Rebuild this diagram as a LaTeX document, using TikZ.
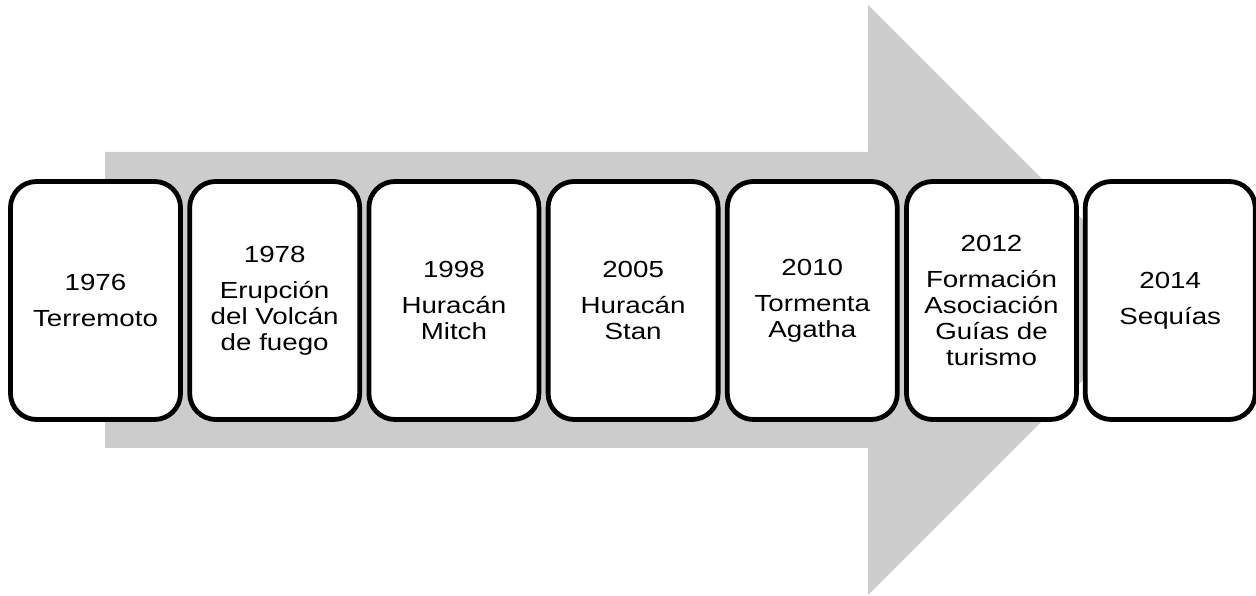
\documentclass[tikz,border=0pt]{standalone}
\usepackage{fontspec}
\setmainfont{Liberation Sans}[FakeStretch=1.19]
\begin{document}
\begin{tikzpicture}[x=1pt,y=1pt,
  evbox/.style={draw=black, fill=white, line width=4.8pt, rounded corners=26pt,
    minimum width=170pt, minimum height=238pt, align=center,
    font=\fontsize{23.3}{26}\selectfont, inner sep=0pt}]
\useasboundingbox (0,0) rectangle (1256,596);
\fill[fill={rgb,255:red,204;green,204;blue,204}] (105,444) -- (868,444) -- (868,591) -- (1163,296) -- (868,1) -- (868,148) -- (105,148) -- cycle;
\def\ys{\\[10pt]}
\node[evbox] (b1) at (95.5,295.5) {1976\ys Terremoto};
\node[evbox] (b2) at (274.7,295.5) {1978\ys Erupción\\del Volcán\\de fuego};
\node[evbox] (b3) at (453.9,295.5) {1998\ys Huracán\\Mitch};
\node[evbox] (b4) at (633.1,295.5) {2005\ys Huracán\\Stan};
\node[evbox] (b5) at (812.3,295.5) {2010\ys Tormenta\\Agatha};
\node[evbox] (b6) at (991.5,295.5) {2012\ys Formación\\Asociación\\Guías de\\turismo};
\node[evbox] (b7) at (1170.2,295.5) {2014\ys Sequías};
\end{tikzpicture}
\end{document}
